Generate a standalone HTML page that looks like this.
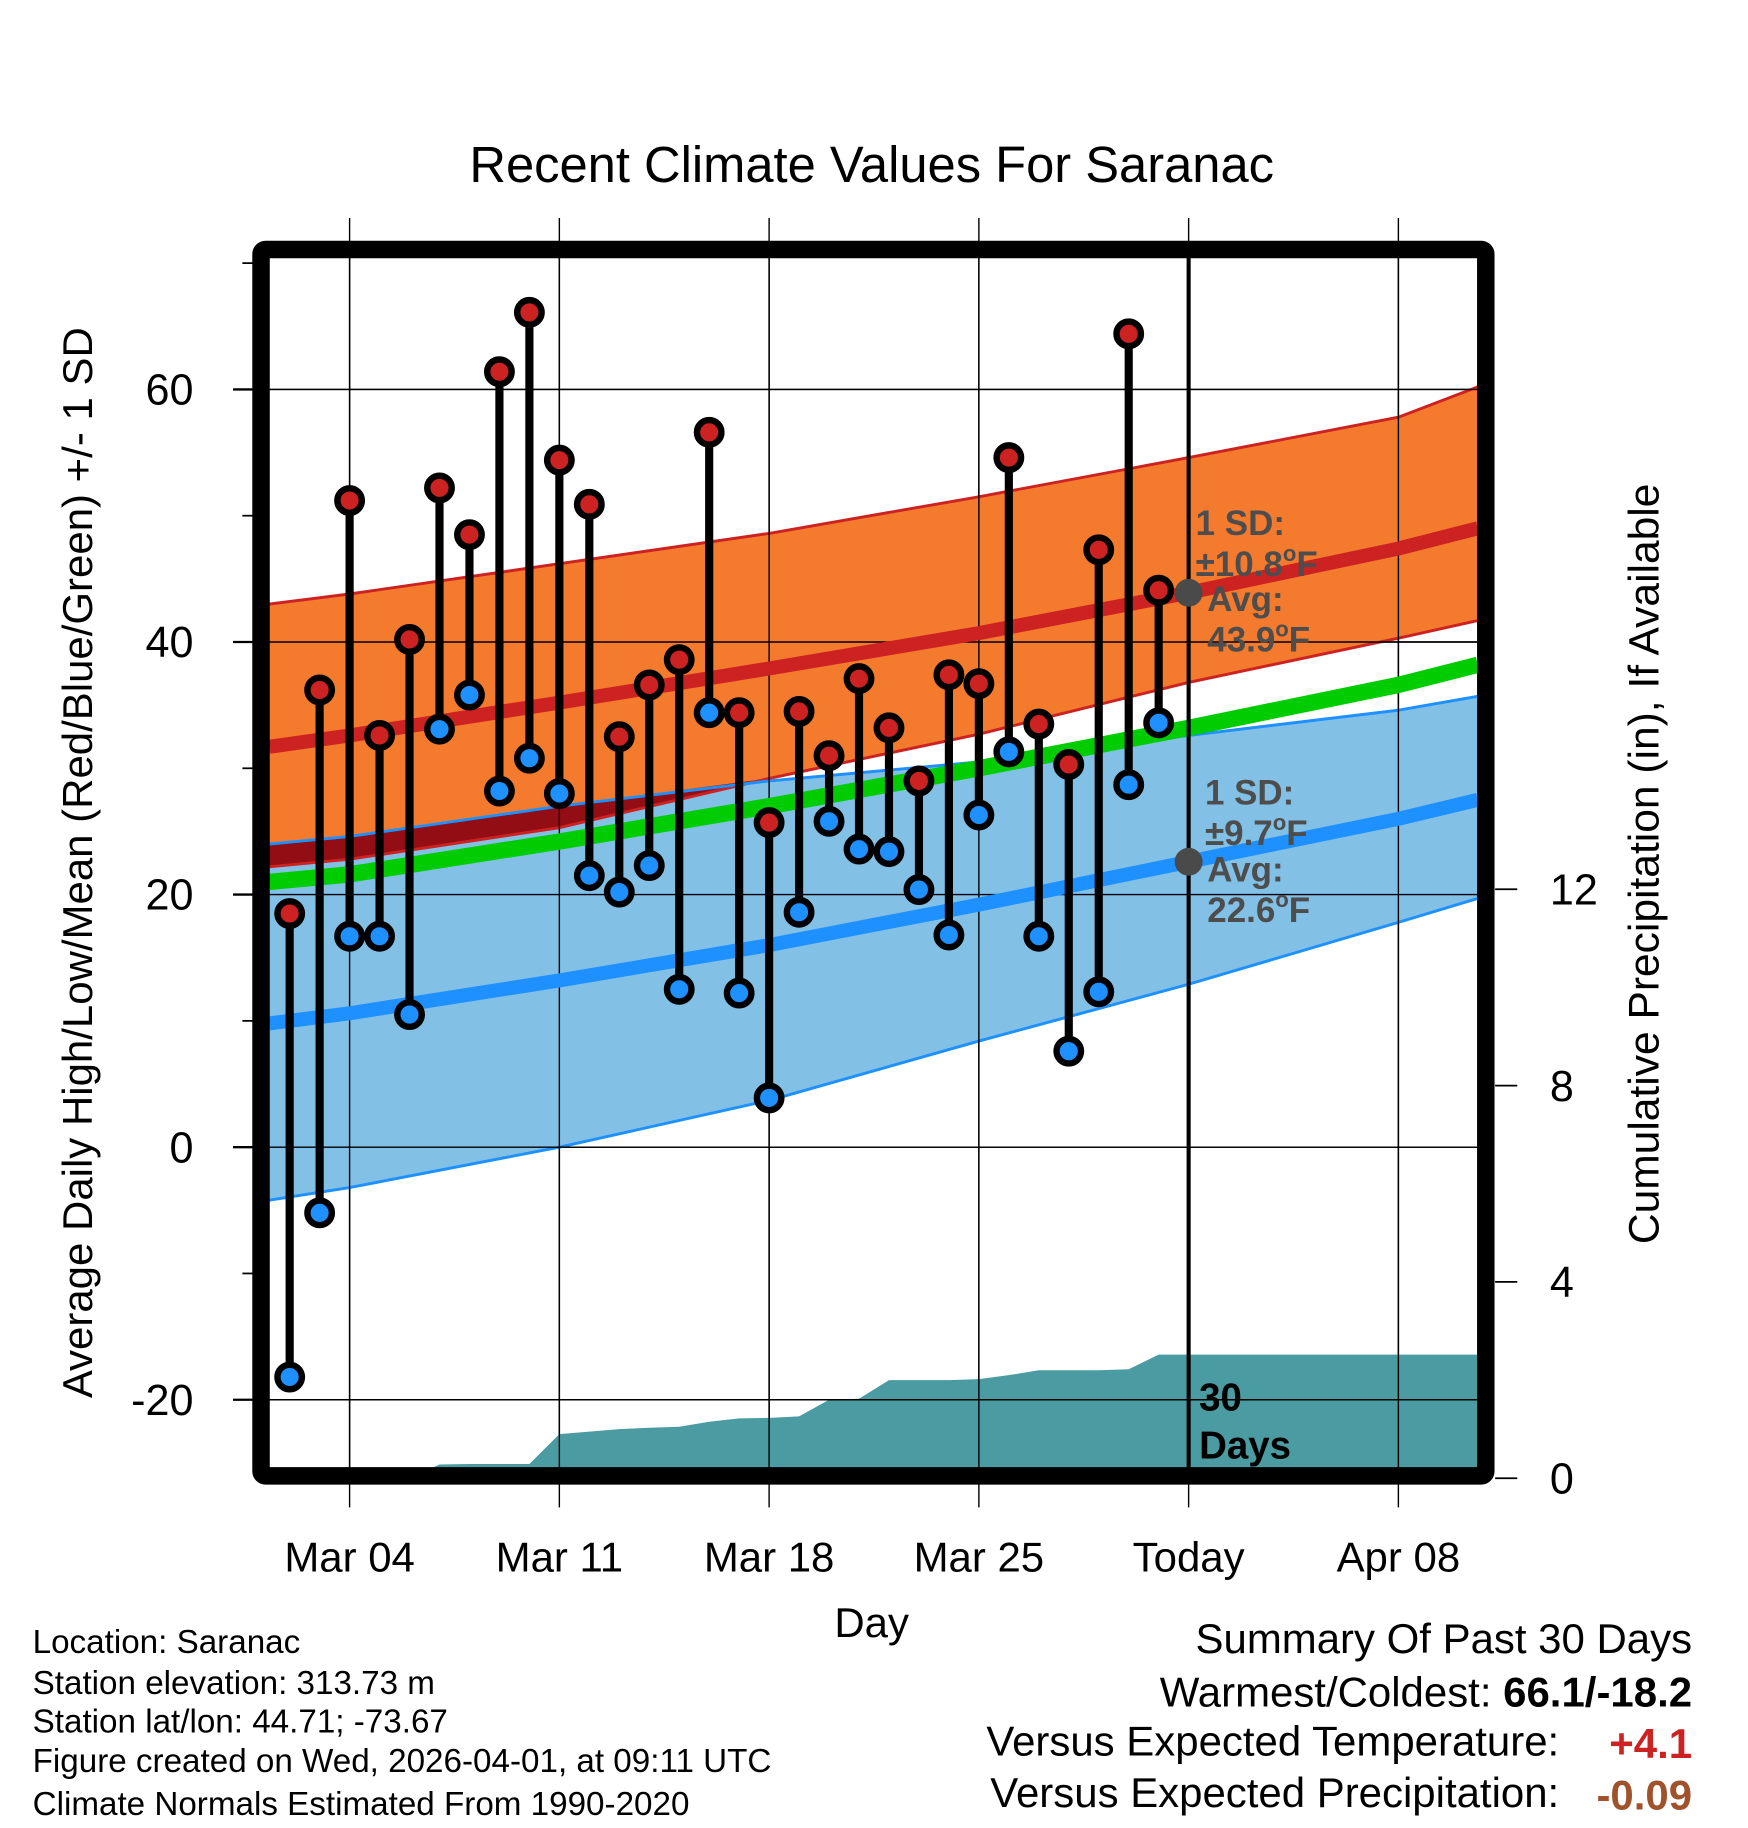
<!DOCTYPE html>
<html><head><meta charset="utf-8">
<style>
html,body{margin:0;padding:0;background:#fff;}
svg{display:block;font-family:"Liberation Sans",Arial,sans-serif;}
</style></head>
<body>
<svg id="chart" width="1748" height="1828" viewBox="0 0 1500 1568" preserveAspectRatio="none" xmlns="http://www.w3.org/2000/svg">
<defs><clipPath id="plotclip"><rect x="231" y="221" width="1037" height="1038"/></clipPath></defs>
<rect x="0" y="0" width="1500" height="1568" fill="#fff"/>
<text x="748" y="156" font-size="43.5" text-anchor="middle">Recent Climate Values For Saranac</text>
<g id="grid"></g>
<g id="bands" clip-path="url(#plotclip)"></g>
<g id="marks"></g>
<g id="frame"></g>
<g id="labels"></g>
</svg>
<script>
// ---- data ----
const dayNums = [2,3,4,5,6,7,8,9,10,11,12,13,14,15,16,17,18,19,20,21,22,23,24,25,26,27,28,29,30,31];
const highs = [18.5,36.2,51.2,32.6,40.2,52.2,48.5,61.4,66.1,54.4,50.9,32.5,36.6,38.6,56.6,34.4,25.7,34.5,31.0,37.1,33.2,29.0,37.4,36.7,54.6,33.5,30.3,47.3,64.4,44.1];
const lows = [-18.2,-5.2,16.7,16.7,10.5,33.1,35.8,28.2,30.8,28.0,21.5,20.2,22.3,12.5,34.4,12.2,3.9,18.6,25.8,23.6,23.4,20.4,16.8,26.3,31.3,16.7,7.6,12.3,28.7,33.6];
const normDays = [1.32,4,11,18,25,32,39,41.65];
const highUpper = [43,43.8,46.2,48.6,51.5,54.6,57.8,60.2];
const highAvg = [31.7,32.6,35.2,37.9,40.7,43.9,47.4,49.0];
const highLower = [22.2,22.8,25.3,29.2,32.7,36.8,40.3,41.7];
const lowUpper = [24,24.6,27,29,30.5,32.6,34.6,35.7];
const lowAvg = [9.8,10.6,13.2,16,19.2,22.6,26,27.5];
const lowLower = [-4.2,-3.2,0,3.7,8.4,12.9,17.8,19.7];
const meanAvg = [21,21.6,24.2,27,30,33.2,36.6,38.2];
const precipDays = [1,2,3,4,5,6,7,8,9,10,11,12,13,14,15,16,17,18,19,20,21,22,23,24,25,26,27,28,29,30,31,41.65];
const precipCum = [0,0,0,0,0,0,0.28,0.29,0.29,0.29,0.9,0.95,1.0,1.03,1.05,1.15,1.22,1.23,1.26,1.6,1.62,2.0,2.0,2.0,2.02,2.1,2.2,2.2,2.2,2.22,2.52,2.52];
const xTickDays = [4,11,18,25,32,39];
const xTickLabels = ["Mar 04","Mar 11","Mar 18","Mar 25","Today","Apr 08"];
const yTicks = [-20,0,20,40,60];
const yMinor = [-10,10,30,50,70];
const pTicks = [0,4,8,12];
const todayDay = 32;
const todayHighAvg = 43.9, todayLowAvg = 22.6;

// ---- axes ----
const xs = d => 300 + (d-4)*25.714;
const ys = v => 984 - v*10.833;
const yp = p => 1268 - p*42.1;
const NS = "http://www.w3.org/2000/svg";
function mk(tag, attrs, parent, text){
  const e = document.createElementNS(NS, tag);
  for (const k in attrs) e.setAttribute(k, attrs[k]);
  if (text !== undefined) e.textContent = text;
  parent.appendChild(e); return e;
}
const svgEl = document.getElementById('chart');
const grid = document.getElementById('grid');
const bands = document.getElementById('bands');
const marks = document.getElementById('marks');
const frame = document.getElementById('frame');
const labels = document.getElementById('labels');

function bandPath(top, bot){
  let s = normDays.map((d,i)=>`${xs(d)},${ys(top[i])}`).join(' ');
  s += ' ' + normDays.map((d,i)=>`${xs(d)},${ys(bot[i])}`).reverse().join(' ');
  return s;
}
function linePts(arr){ return normDays.map((d,i)=>`${xs(d)},${ys(arr[i])}`).join(' '); }
let e;
e = mk('polygon',{points:bandPath(highUpper,highLower),fill:'#f47a2e'},bands);
 
e = mk('polygon',{points:bandPath(lowUpper,lowLower),fill:'#82c0e6'},bands);
 
const ovTop = lowUpper.map((v,i)=>Math.max(v, highLower[i]));
e = mk('polygon',{points:bandPath(ovTop,highLower),fill:'#930e14'},bands);
 
e = mk('polyline',{points:linePts(highUpper),fill:'none',stroke:'#cc2222','stroke-width':2.5},bands);
 
e = mk('polyline',{points:linePts(highLower),fill:'none',stroke:'#cc2222','stroke-width':2.5},bands);
 
e = mk('polyline',{points:linePts(lowUpper),fill:'none',stroke:'#1e90ff','stroke-width':2.5},bands);
 
e = mk('polyline',{points:linePts(lowLower),fill:'none',stroke:'#1e90ff','stroke-width':2.5},bands);
 

let pp = `${xs(precipDays[0])},${yp(0)} ` + precipDays.map((d,i)=>`${xs(d)},${yp(precipCum[i])}`).join(' ') + ` ${xs(precipDays[precipDays.length-1])},${yp(0)}`;
e = mk('polygon',{points:pp,fill:'#4a9ba2'},bands);
 

xTickDays.forEach(d=>{
  e = mk('line',{x1:xs(d),x2:xs(d),y1:187,y2:1293,stroke:'#000','stroke-width':1.2},grid);
   
});
yTicks.forEach(v=>{
  e = mk('line',{x1:200,x2:1268,y1:ys(v),y2:ys(v),stroke:'#000','stroke-width':1.2},grid);
   
});
const grid2 = document.createElementNS(NS,'g');
svgEl.insertBefore(grid2, marks);
xTickDays.forEach(d=>{
  e = mk('line',{x1:xs(d),x2:xs(d),y1:221,y2:1259,stroke:'#000','stroke-width':1.2},grid2);
   
});
yTicks.forEach(v=>{
  e = mk('line',{x1:231,x2:1268,y1:ys(v),y2:ys(v),stroke:'#000','stroke-width':1.2},grid2);
   
});

e = mk('polyline',{points:linePts(meanAvg),fill:'none',stroke:'#00cc00','stroke-width':14},marks);
 
e = mk('polyline',{points:linePts(highAvg),fill:'none',stroke:'#cc2222','stroke-width':12},marks);
 
e = mk('polyline',{points:linePts(lowAvg),fill:'none',stroke:'#1e90ff','stroke-width':12},marks);
 
marks.setAttribute('clip-path','url(#plotclip)');

const marks2 = document.createElementNS(NS,'g');
svgEl.insertBefore(marks2, frame);
e = mk('line',{x1:xs(todayDay),x2:xs(todayDay),y1:221,y2:1259,stroke:'#000','stroke-width':3.5},marks2);
 

dayNums.forEach((d,i)=>{
  const x = xs(d);
  e = mk('line',{x1:x,x2:x,y1:ys(highs[i]),y2:ys(lows[i]),stroke:'#000','stroke-width':7},marks2);
   
  e = mk('circle',{cx:x,cy:ys(highs[i]),r:10.5,fill:'#cc2222',stroke:'#000','stroke-width':5.5},marks2);
   
  e = mk('circle',{cx:x,cy:ys(lows[i]),r:10.5,fill:'#1e90ff',stroke:'#000','stroke-width':5.5},marks2);
   
});

e = mk('circle',{cx:xs(todayDay),cy:ys(todayHighAvg),r:12,fill:'#4a4a4a'},marks2);
 
e = mk('circle',{cx:xs(todayDay),cy:ys(todayLowAvg),r:12,fill:'#4a4a4a'},marks2);
 

e = mk('rect',{x:224,y:214,width:1051,height:1052,fill:'none',stroke:'#000','stroke-width':15,rx:4},frame);
 

yTicks.forEach(v=>{
  e = mk('line',{x1:200,x2:217,y1:ys(v),y2:ys(v),stroke:'#000','stroke-width':2},frame);
   
  e = mk('text',{x:166,y:ys(v)+13,'font-size':37,'text-anchor':'end'},labels,String(v));
   
});
yMinor.forEach(v=>{
  e = mk('line',{x1:208,x2:217,y1:ys(v),y2:ys(v),stroke:'#000','stroke-width':1.5},frame);
   
});
pTicks.forEach(p=>{
  e = mk('line',{x1:1283,x2:1302,y1:yp(p),y2:yp(p),stroke:'#000','stroke-width':1.5},frame);
   
  e = mk('text',{x:1330,y:yp(p)+13,'font-size':37},labels,String(p));
   
});
xTickDays.forEach((d,i)=>{
  e = mk('text',{x:xs(d),y:1348,'font-size':36,'text-anchor':'middle'},labels,xTickLabels[i]);
   
});

labels.insertAdjacentHTML('beforeend',`
<text x="748" y="1404" font-size="36" text-anchor="middle">Day</text>
<text transform="translate(79,740) rotate(-90)" font-size="36" text-anchor="middle">Average Daily High/Low/Mean (Red/Blue/Green) +/- 1 SD</text>
<text transform="translate(1423,741) rotate(-90)" font-size="36.5" text-anchor="middle">Cumulative Precipitation (in), If Available</text>
<g fill="#4d4d4d" font-weight="bold" font-size="30">
<text x="1026" y="459">1 SD:</text>
<text x="1026" y="494">±10.8<tspan font-size="19" dy="-13">o</tspan><tspan dy="13">F</tspan></text>
<text x="1036" y="524">Avg:</text>
<text x="1036" y="559">43.9<tspan font-size="19" dy="-13">o</tspan><tspan dy="13">F</tspan></text>
</g>
<g fill="#4d4d4d" font-weight="bold" font-size="30">
<text x="1034" y="690">1 SD:</text>
<text x="1034" y="725">±9.7<tspan font-size="19" dy="-13">o</tspan><tspan dy="13">F</tspan></text>
<text x="1036" y="756">Avg:</text>
<text x="1036" y="791">22.6<tspan font-size="19" dy="-13">o</tspan><tspan dy="13">F</tspan></text>
</g>
<g font-weight="bold" font-size="33">
<text x="1029" y="1210">30</text><text x="1029" y="1251">Days</text>
</g>
<g font-size="28.5">
<text x="28" y="1418">Location: Saranac</text>
<text x="28" y="1453">Station elevation: 313.73 m</text>
<text x="28" y="1486">Station lat/lon: 44.71; -73.67</text>
<text x="28" y="1520">Figure created on Wed, 2026-04-01, at 09:11 UTC</text>
<text x="28" y="1557">Climate Normals Estimated From 1990-2020</text>
</g>
<g font-size="36">
<text x="1452" y="1418" text-anchor="end">Summary Of Past 30 Days</text>
<text x="1452" y="1464" text-anchor="end">Warmest/Coldest: <tspan font-weight="bold">66.1/-18.2</tspan></text>
<text x="1338" y="1506" text-anchor="end">Versus Expected Temperature:</text>
<text x="1452" y="1508" text-anchor="end" font-weight="bold" fill="#cc2222">+4.1</text>
<text x="1338" y="1550" text-anchor="end">Versus Expected Precipitation:</text>
<text x="1452" y="1552" text-anchor="end" font-weight="bold" fill="#a0522d">-0.09</text>
</g>`);
</script>
</body></html>
